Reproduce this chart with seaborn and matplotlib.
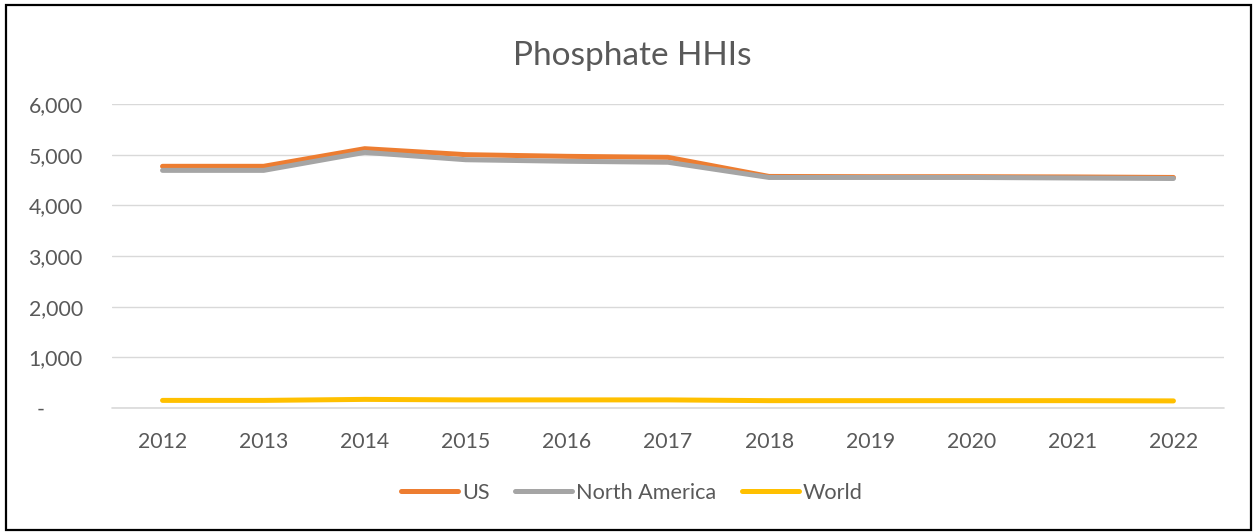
import matplotlib
matplotlib.use("Agg")
import matplotlib.pyplot as plt
import matplotlib.transforms as mtransforms
from matplotlib.patches import Rectangle
import seaborn as sns
import pandas as pd

years = [2012, 2013, 2014, 2015, 2016, 2017, 2018, 2019, 2020, 2021, 2022]
us = [4770, 4770, 5118, 5000, 4967, 4947, 4570, 4565, 4565, 4560, 4550]
north_america = [4690, 4690, 5045, 4900, 4870, 4850, 4550, 4550, 4550, 4540, 4530]
world = [150, 150, 170, 160, 160, 160, 145, 145, 145, 145, 140]
series_names = ["US", "North America", "World"]
ytick_values = [0, 1000, 2000, 3000, 4000, 5000, 6000]
ytick_labels = ["-", "1,000", "2,000", "3,000", "4,000", "5,000", "6,000"]
title = "Phosphate HHIs"

colors = {"US": "#ED7D31", "North America": "#A5A5A5", "World": "#FFC000"}
text_color = "#595959"

df = pd.DataFrame({"Year": years, "US": us, "North America": north_america, "World": world})
long = df.melt(id_vars="Year", var_name="Series", value_name="HHI")

sns.set_theme(style="white")
plt.rcParams["font.family"] = ["Lato", "DejaVu Sans"]

W, H = 1254, 532
fig = plt.figure(figsize=(W / 100, H / 100), dpi=100)
ax = fig.add_axes([112 / W, 1 - 408 / H, (1224 - 112) / W, (408 - 104) / H])

sns.lineplot(data=long, x="Year", y="HHI", hue="Series", hue_order=series_names,
             palette=colors, linewidth=3.6, ax=ax, legend=False, zorder=3)
for ln in ax.get_lines():
    ln.set_solid_capstyle("round")
    ln.set_solid_joinstyle("round")

ax.set_xlim(2011.5, 2022.5)
ax.set_ylim(0, 6000)
ax.set_xticks(years)
ax.set_xticklabels([str(y) for y in years])
ax.set_yticks(ytick_values)
ax.set_yticklabels(ytick_labels)
ax.set_xlabel("")
ax.set_ylabel("")
for s in ax.spines.values():
    s.set_visible(False)
ax.grid(axis="y", color="#D9D9D9", linewidth=1.0, zorder=0)
ax.grid(axis="x", visible=False)
ax.axhline(0, color="#D9D9D9", linewidth=1.2, zorder=1, clip_on=False)
ax.tick_params(axis="both", length=0, labelsize=15.3, labelcolor=text_color)
ax.tick_params(axis="x", pad=17)
ax.tick_params(axis="y", pad=21)

for lab in ax.get_yticklabels():
    if lab.get_text() == "-":
        lab.set_transform(lab.get_transform() + mtransforms.ScaledTranslation(-38 / 100, 0, fig.dpi_scale_trans))

fig.text(632 / W, 1 - 56 / H, title, ha="center", va="center", fontsize=24, color=text_color)

handles = [plt.Line2D([], [], color=colors[n], linewidth=3.6, solid_capstyle="round") for n in series_names]
fig.legend(handles, series_names, loc="center", bbox_to_anchor=(632 / W, 1 - 493 / H), ncol=3,
           frameon=False, fontsize=15.6, labelcolor=text_color, handlelength=2.6,
           handletextpad=0.2, columnspacing=1.2)

fig.add_artist(Rectangle((6 / W, 1 - 529.5 / H), (1250.5 - 6) / W, (529.5 - 5) / H,
                         transform=fig.transFigure, fill=False, edgecolor="black", linewidth=1.6))

fig.savefig("out.png", dpi=100, facecolor="white")
